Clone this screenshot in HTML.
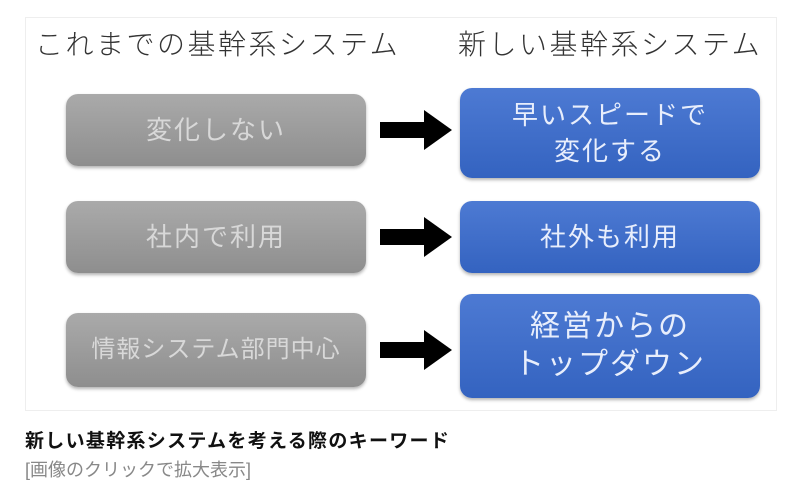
<!DOCTYPE html>
<html><head><meta charset="utf-8"><style>
body{margin:0;width:802px;height:496px;background:#fff;position:relative;overflow:hidden;font-family:"Liberation Sans","Noto Sans CJK JP",sans-serif}
.frame{position:absolute;left:25px;top:17px;width:750px;height:392px;border:1px solid #eee;background:#fff}
.h{position:absolute;top:26px;font-size:28px;color:#333;letter-spacing:2.5px;white-space:nowrap;line-height:38px;font-weight:300}
.b{position:absolute;border-radius:12px;display:flex;align-items:center;justify-content:center;text-align:center;color:#e4e4e4;font-size:26px;letter-spacing:2px;line-height:36px;box-shadow:0 2px 3px rgba(0,0,0,.3)}
.g{left:66px;width:300px;background:linear-gradient(#aaa,#8e8e8e);color:#d8d8d8}
.bl{left:460px;width:300px;background:linear-gradient(#4d7ad3,#3463c0);color:#e8eefc}
.ar{position:absolute;left:380px;width:72px;height:40px}
.c1{position:absolute;left:25px;top:426px;font-size:19px;font-weight:bold;color:#111;letter-spacing:1.3px}
.c2{position:absolute;left:25px;top:456px;font-size:18px;color:#888}
</style></head><body>
<div class="frame"></div>
<div class="h" style="left:35px">これまでの基幹系システム</div>
<div class="h" style="left:458px">新しい基幹系システム</div>
<div class="b g" style="top:94px;height:72px">変化しない</div>
<div class="b g" style="top:201px;height:72px">社内で利用</div>
<div class="b g" style="top:313px;height:74px;font-size:24px;letter-spacing:1px">情報システム部門中心</div>
<div class="b bl" style="top:88px;height:90px">早いスピードで<br>変化する</div>
<div class="b bl" style="top:201px;height:72px">社外も利用</div>
<div class="b bl" style="top:294px;height:104px;font-size:30px;line-height:38px">経営からの<br>トップダウン</div>
<svg class="ar" style="top:110px" viewBox="0 0 72 40"><polygon points="0,12 44,12 44,0 72,20 44,40 44,28 0,28" fill="#000"/></svg>
<svg class="ar" style="top:217px" viewBox="0 0 72 40"><polygon points="0,12 44,12 44,0 72,20 44,40 44,28 0,28" fill="#000"/></svg>
<svg class="ar" style="top:330px" viewBox="0 0 72 40"><polygon points="0,12 44,12 44,0 72,20 44,40 44,28 0,28" fill="#000"/></svg>
<div class="c1">新しい基幹系システムを考える際のキーワード</div>
<div class="c2">[画像のクリックで拡大表示]</div>
</body></html>
